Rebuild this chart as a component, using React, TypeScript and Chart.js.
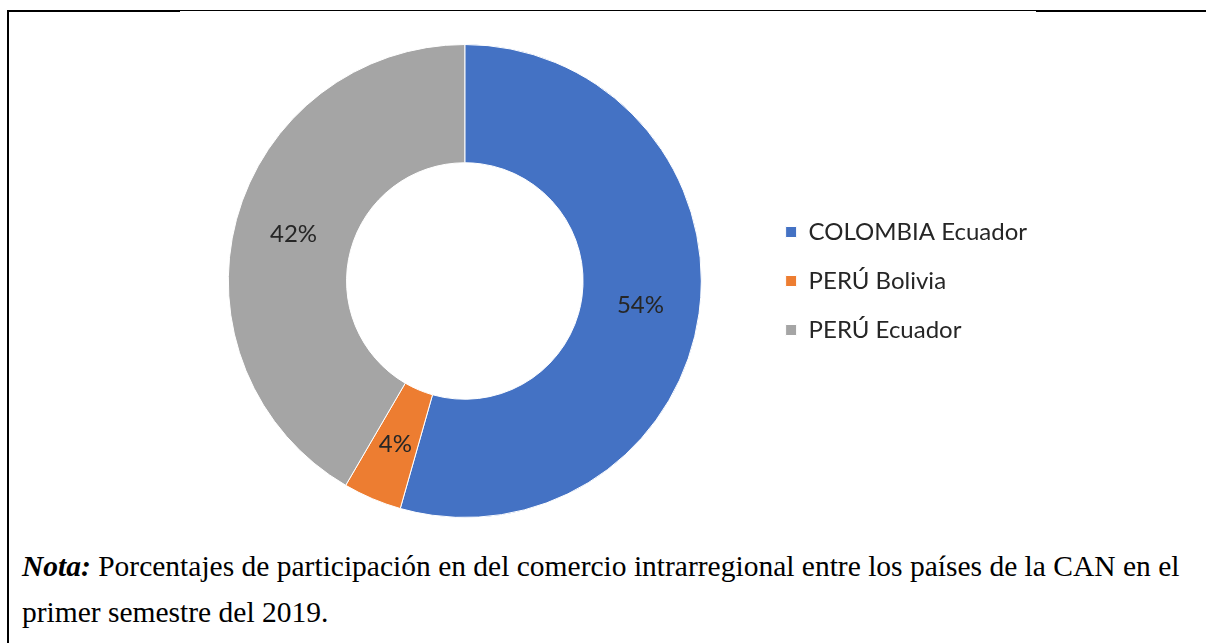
import React, { useEffect, useRef } from "react";
import { Chart, registerables } from "chart.js";

Chart.register(...registerables);

const categories = ["COLOMBIA Ecuador", "PERÚ Bolivia", "PERÚ Ecuador"];
const shares = [54.4, 4.0, 41.6];
const colors = ["#4472C4", "#ED7D31", "#A5A5A5"];
const noteLine1 = "Porcentajes de participación en del comercio intrarregional entre los países de la CAN en el";
const noteLine2 = "primer semestre del 2019.";

const FONT = "Lato, 'Open Sans', sans-serif";

const labelPlugin = {
  id: "sliceLabels",
  afterDatasetsDraw(chart: any) {
    const ctx = chart.ctx;
    const meta = chart.getDatasetMeta(0);
    const data = chart.data.datasets[0].data as number[];
    ctx.save();
    ctx.font = `24px ${FONT}`;
    ctx.fillStyle = "#262626";
    ctx.textAlign = "center";
    ctx.textBaseline = "middle";
    meta.data.forEach((arc: any, i: number) => {
      const p = arc.tooltipPosition();
      ctx.fillText(Math.round(data[i]) + "%", p.x, p.y);
    });
    ctx.restore();
  },
};

export default function App() {
  const ref = useRef<HTMLCanvasElement | null>(null);
  useEffect(() => {
    if (!ref.current) return;
    const chart = new Chart(ref.current, {
      type: "doughnut",
      data: {
        labels: categories,
        datasets: [
          {
            data: shares,
            backgroundColor: colors,
            borderColor: "#ffffff",
            borderWidth: 1,
          },
        ],
      },
      options: {
        responsive: false,
        animation: false,
        cutout: "50%",
        layout: { padding: { left: 159, right: 153, top: 0, bottom: 0 } },
        plugins: {
          tooltip: { enabled: false },
          legend: {
            position: "right",
            labels: {
              boxWidth: 11,
              boxHeight: 11,
              padding: 25,
              color: "#262626",
              font: { size: 24, family: FONT },
            },
          },
        },
      },
      plugins: [labelPlugin],
    });
    return () => chart.destroy();
  }, []);

  return (
    <div style={{ position: "absolute", left: 0, top: 0, width: 1206, height: 643, background: "#fff", overflow: "hidden" }}>
      <div style={{ position: "absolute", left: 7, top: 10, width: 173, height: 2, background: "#000" }} />
      <div style={{ position: "absolute", left: 180, top: 10, width: 856, height: 1, background: "#000" }} />
      <div style={{ position: "absolute", left: 1036, top: 10, width: 170, height: 2, background: "#000" }} />
      <div style={{ position: "absolute", left: 7, top: 10, width: 2, height: 633, background: "#000" }} />
      <canvas ref={ref} width={1180} height={474} style={{ position: "absolute", left: 10, top: 44 }} />
      <div
        style={{
          position: "absolute",
          left: 22,
          top: 543,
          fontFamily: "'Liberation Serif', 'Times New Roman', serif",
          fontSize: 29.5,
          lineHeight: "46px",
          color: "#000",
          whiteSpace: "nowrap",
        }}
      >
        <div>
          <b><i>Nota:</i></b> {noteLine1}
        </div>
        <div>{noteLine2}</div>
      </div>
    </div>
  );
}
